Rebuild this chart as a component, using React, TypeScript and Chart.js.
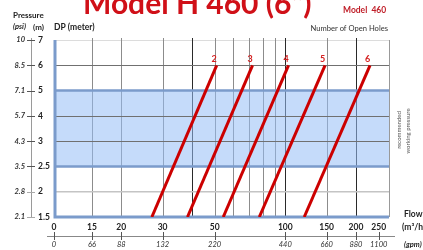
import React, { useEffect, useRef } from 'react';
import { Chart, registerables } from 'chart.js';

Chart.register(...registerables);

// ---- data ----
const chartTitle = 'Model H 460 (6")';
const modelLabel = 'Model  460';
const holesCaption = 'Number of Open Holes';
const holeLabels = ['2', '3', '4', '5', '6'];
// flow (m3/h) where each open-holes line crosses 1.5 m and 6 m of DP
const flowAtLow = [27.0, 38.3, 54.4, 77.5, 120.4];
const flowAtHigh = [51.0, 72.5, 103.2, 147.7, 229.6];
const lowM = 1.5;
const highM = 6;
const pressureM = [1.5, 2, 2.5, 3, 4, 5, 6, 7];
const pressureMLabels = ['1.5', '2', '2.5', '3', '4', '5', '6', '7'];
const pressurePsiLabels = ['2.1', '2.8', '3.5', '4.3', '5.7', '7.1', '8.5', '10'];
const flowTicks = [15, 20, 30, 50, 100, 150, 200, 250];
const flowTickLabels = ['15', '20', '30', '50', '100', '150', '200', '250'];
const gpmLabels = ['0', '66', '88', '132', '220', '440', '660', '880', '1100'];
const flowGrid = [15, 20, 30, 40, 50, 60, 70, 80, 90, 100, 150, 200];
const flowGridDark = [40, 100, 200];
const bandM = [2.5, 5];
const gridM = [6, 4, 3];
const flowMin = 10.34;
const flowMax = 276.6;

// pressure (m) -> position on the evenly spaced pressure axis
function mToIdx(m: number): number {
  for (let i = 0; i < pressureM.length - 1; i++) {
    if (m >= pressureM[i] && m <= pressureM[i + 1]) {
      return i + (m - pressureM[i]) / (pressureM[i + 1] - pressureM[i]);
    }
  }
  return m < pressureM[0] ? 0 : pressureM.length - 1;
}

const RED = '#cc0000';
const BLUE_EDGE = '#7b9bcb';
const FONT = 'Lato, "Liberation Sans", sans-serif';

const decor = {
  id: 'decor',
  beforeDatasetsDraw(chart: any) {
    const { ctx, chartArea: a, scales } = chart;
    const xs = scales.x;
    const ys = scales.y;
    ctx.save();
    // top line
    ctx.strokeStyle = '#dcdcdc';
    ctx.lineWidth = 1;
    ctx.beginPath();
    ctx.moveTo(a.left, Math.round(a.top) + 0.5);
    ctx.lineTo(a.right, Math.round(a.top) + 0.5);
    ctx.stroke();
    // vertical grid
    flowGrid.forEach((v) => {
      const x = Math.round(xs.getPixelForValue(v)) + 0.5;
      ctx.strokeStyle = flowGridDark.includes(v) ? '#2a2a2a' : '#8c8c8c';
      ctx.beginPath();
      ctx.moveTo(x, a.top - 2);
      ctx.lineTo(x, a.bottom);
      ctx.stroke();
    });
    // right border
    ctx.strokeStyle = '#999';
    ctx.beginPath();
    ctx.moveTo(Math.round(a.right) + 0.5, a.top);
    ctx.lineTo(Math.round(a.right) + 0.5, a.bottom);
    ctx.stroke();
    // horizontal line at 2 m
    ctx.strokeStyle = '#c4c4c4';
    ctx.lineWidth = 1.5;
    const y2 = ys.getPixelForValue(mToIdx(2));
    ctx.beginPath();
    ctx.moveTo(a.left, y2);
    ctx.lineTo(a.right, y2);
    ctx.stroke();
    // band
    const yb1 = ys.getPixelForValue(mToIdx(bandM[1]));
    const yb0 = ys.getPixelForValue(mToIdx(bandM[0]));
    ctx.fillStyle = 'rgba(150,190,245,0.55)';
    ctx.fillRect(a.left, yb1, a.right - a.left, yb0 - yb1);
    // gray grid lines
    ctx.strokeStyle = '#707070';
    ctx.lineWidth = 1;
    gridM.forEach((m) => {
      const y = Math.round(ys.getPixelForValue(mToIdx(m))) + 0.5;
      ctx.beginPath();
      ctx.moveTo(a.left, y);
      ctx.lineTo(a.right, y);
      ctx.stroke();
    });
    // band edges
    ctx.strokeStyle = BLUE_EDGE;
    ctx.lineWidth = 2.5;
    [yb1, yb0].forEach((y) => {
      ctx.beginPath();
      ctx.moveTo(a.left, y);
      ctx.lineTo(a.right, y);
      ctx.stroke();
    });
    // left and bottom borders
    ctx.lineWidth = 3;
    ctx.beginPath();
    ctx.moveTo(a.left + 1, a.top);
    ctx.lineTo(a.left + 1, a.bottom);
    ctx.lineTo(a.right, a.bottom);
    ctx.stroke();
    ctx.restore();
  },
  afterDatasetsDraw(chart: any) {
    const { ctx } = chart;
    ctx.save();
    ctx.fillStyle = '#d42020';
    ctx.font = `bold 9px ${FONT}`;
    ctx.textAlign = 'center';
    ctx.textBaseline = 'middle';
    chart.data.datasets.forEach((ds: any, i: number) => {
      const meta = chart.getDatasetMeta(i);
      const p = meta.data[meta.data.length - 1];
      ctx.fillText(ds.label, p.x - 2.5, p.y - 6);
    });
    ctx.restore();
  },
  afterDraw(chart: any) {
    const { ctx, chartArea: a, scales } = chart;
    const xs = scales.x;
    const ys = scales.y;
    ctx.save();
    // title
    ctx.fillStyle = '#d01018';
    ctx.font = `bold 30px ${FONT}`;
    ctx.textAlign = 'left';
    ctx.textBaseline = 'alphabetic';
    ctx.fillText(chartTitle, 83, 14);
    ctx.font = `bold 8.5px ${FONT}`;
    ctx.textBaseline = 'middle';
    ctx.fillStyle = '#c0202a';
    ctx.fillText(modelLabel, 343, 10);
    ctx.fillStyle = '#333';
    ctx.font = `7.6px ${FONT}`;
    ctx.textAlign = 'right';
    ctx.fillText(holesCaption, 388, 29);
    // left headings
    ctx.textAlign = 'left';
    ctx.fillStyle = '#222';
    ctx.font = `bold 8px ${FONT}`;
    ctx.fillText('Pressure', 13, 15);
    ctx.font = `italic bold 7.5px ${FONT}`;
    ctx.fillText('(psi)', 13, 27);
    ctx.font = `bold 8px ${FONT}`;
    ctx.fillText('(m)', 33, 27);
    ctx.font = `bold 8.5px ${FONT}`;
    ctx.fillText('DP (meter)', 54, 27);
    // left axis
    ctx.strokeStyle = '#9a9a9a';
    ctx.lineWidth = 1;
    ctx.beginPath();
    ctx.moveTo(31.5, a.top - 2);
    ctx.lineTo(31.5, a.bottom);
    ctx.stroke();
    pressureM.forEach((m, i) => {
      const y = ys.getPixelForValue(mToIdx(m));
      ctx.strokeStyle = i < 2 ? '#aaa' : '#555';
      ctx.beginPath();
      ctx.moveTo(27, Math.round(y) + 0.5);
      ctx.lineTo(35, Math.round(y) + 0.5);
      ctx.stroke();
      ctx.fillStyle = '#222';
      ctx.textAlign = 'left';
      ctx.font = `bold 8.5px ${FONT}`;
      ctx.fillText(pressureMLabels[i], 38, y);
      ctx.textAlign = 'right';
      ctx.fillStyle = '#333';
      ctx.font = `italic bold 7.5px ${FONT}`;
      ctx.fillText(pressurePsiLabels[i], 25, y);
    });
    // bottom axis
    const xPos = [a.left, ...flowTicks.map((v) => xs.getPixelForValue(v))];
    const mLabels = ['0', ...flowTickLabels];
    ctx.strokeStyle = '#888';
    ctx.beginPath();
    ctx.moveTo(47, 236.5);
    ctx.lineTo(395, 236.5);
    ctx.stroke();
    ctx.textAlign = 'center';
    xPos.forEach((x, i) => {
      ctx.strokeStyle = '#555';
      ctx.beginPath();
      ctx.moveTo(Math.round(x) + 0.5, 232);
      ctx.lineTo(Math.round(x) + 0.5, 240);
      ctx.stroke();
      ctx.fillStyle = '#222';
      ctx.font = `bold 8.5px ${FONT}`;
      ctx.fillText(mLabels[i], x, 227);
      ctx.fillStyle = '#333';
      ctx.font = `italic 7.5px ${FONT}`;
      ctx.fillText(gpmLabels[i], x, 245);
    });
    ctx.textAlign = 'left';
    ctx.fillStyle = '#222';
    ctx.font = `bold 8.5px ${FONT}`;
    ctx.fillText('Flow', 404, 214);
    ctx.fillText('(m\u00b3/h)', 402, 227);
    ctx.font = `italic bold 7.5px ${FONT}`;
    ctx.fillText('(gpm)', 404, 245);
    // rotated band caption
    ctx.fillStyle = '#555';
    ctx.font = `6px ${FONT}`;
    ctx.textAlign = 'center';
    ctx.save();
    ctx.translate(399, 130);
    ctx.rotate(-Math.PI / 2);
    ctx.fillText('recommended', 0, 0);
    ctx.restore();
    ctx.save();
    ctx.translate(408, 131);
    ctx.rotate(-Math.PI / 2);
    ctx.fillText('working pressure', 0, 0);
    ctx.restore();
    ctx.restore();
  },
};

export default function App() {
  const ref = useRef<HTMLCanvasElement>(null);
  useEffect(() => {
    if (!ref.current) return;
    const datasets = holeLabels.map((h, i) => ({
      label: h,
      data: [
        { x: flowAtLow[i], y: mToIdx(lowM) },
        { x: flowAtHigh[i], y: mToIdx(highM) },
      ],
      showLine: true,
      borderColor: RED,
      backgroundColor: RED,
      borderWidth: 3,
      pointRadius: 0,
    }));
    const chart = new Chart(ref.current, {
      type: 'scatter',
      data: { datasets },
      options: {
        animation: false,
        responsive: false,
        layout: { padding: { left: 54, right: 34, top: 40, bottom: 33 } },
        scales: {
          x: { type: 'logarithmic', min: flowMin, max: flowMax, display: false },
          y: { type: 'linear', min: 0, max: pressureM.length - 1, display: false },
        },
        plugins: { legend: { display: false }, tooltip: { enabled: false }, title: { display: false } },
      },
      plugins: [decor],
    } as any);
    return () => chart.destroy();
  }, []);
  return (
    <div style={{ position: 'fixed', left: 0, top: 0, width: 423, height: 250, background: '#fff' }}>
      <canvas ref={ref} width={423} height={250} style={{ display: 'block' }} />
    </div>
  );
}
